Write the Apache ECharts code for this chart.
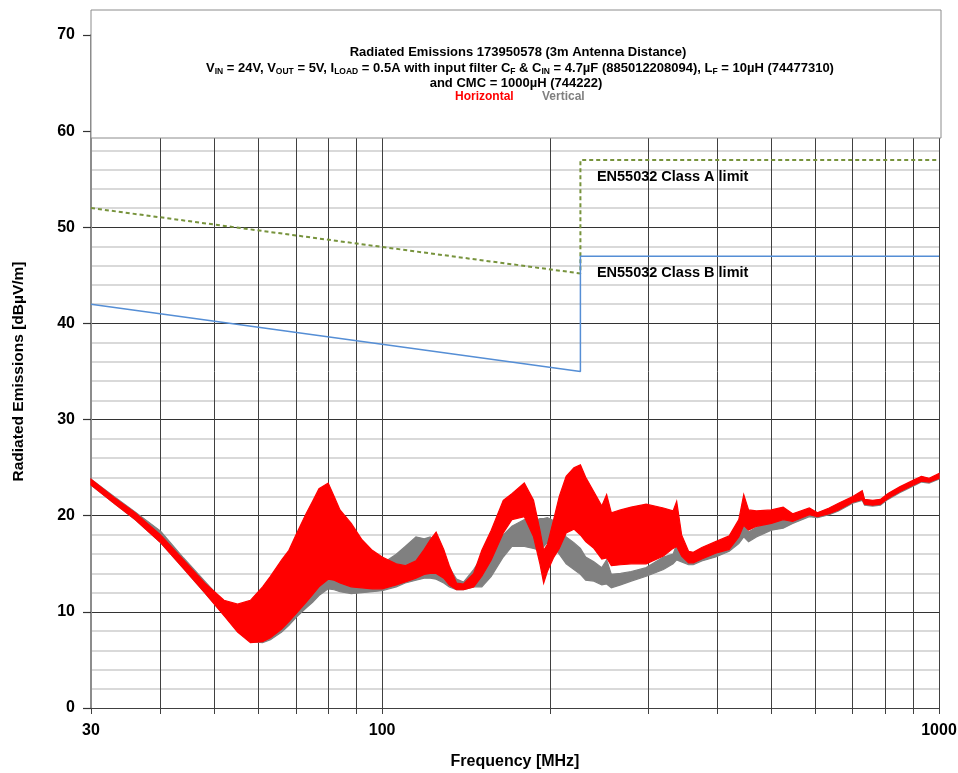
<!DOCTYPE html>
<html>
<head>
<meta charset="utf-8">
<title>Radiated Emissions 173950578</title>
<script src="https://cdn.jsdelivr.net/npm/echarts@6/dist/echarts.min.js"></script>
<style>
    html, body { margin: 0; padding: 0; background: #fff; }
    #main { width: 958px; height: 773px; }
</style>
</head>
<body>
<div id="main"></div>
<script>
    const freq = [30, 33, 36, 40, 44, 48, 52, 55, 58, 61, 63, 66, 68, 70, 73, 75, 77, 80, 82,
        84, 88, 92, 96, 100, 106, 110, 115, 119, 122, 125, 129, 132, 136, 140, 146, 151, 157, 165, 171,
        180, 187, 192, 195, 198, 203, 208, 214, 221, 227, 232, 240, 248, 253, 258, 268, 280, 298, 320, 333,
        338, 345, 355, 362, 375, 397, 420, 437, 446, 455, 470, 500, 525, 546, 585, 605, 635, 660, 700, 728,
        735, 760, 785, 810, 850, 900, 930, 960, 1000];

    // horizontal polarisation, lower / upper envelope [dBµV/m]
    const horizLow = [23.2, 21.3, 19.6, 17.2, 14.5, 12.0, 9.6, 7.9, 6.8, 6.9, 7.3, 8.2, 9.0, 9.8, 11.0, 11.8, 12.6, 13.4, 13.3,
        13.0, 12.6, 12.5, 12.4, 12.4, 12.8, 13.1, 13.5, 13.9, 14.0, 14.0, 13.5, 12.8, 12.3, 12.3, 12.6, 13.7, 15.4, 18.2, 19.6,
        19.9, 17.8, 15.0, 13.0, 14.2, 15.6, 16.6, 18.2, 18.6, 18.0, 17.3, 16.6, 15.5, 15.6, 14.8, 14.9, 15.0, 15.0, 15.8, 16.6,
        16.8, 15.8, 15.1, 15.1, 15.5, 16.1, 16.5, 17.8, 19.0, 18.5, 18.9, 19.2, 19.6, 19.4, 20.1, 19.9, 20.2, 20.6, 21.4, 21.7,
        21.2, 21.1, 21.2, 21.8, 22.5, 23.2, 23.6, 23.5, 23.9];
    const horizHigh = [23.8, 21.9, 20.3, 18.0, 15.4, 13.0, 11.2, 10.8, 11.2, 12.6, 13.7, 15.4, 16.4, 18.0, 20.2, 21.5, 22.8, 23.4, 22.0,
        20.6, 19.2, 17.5, 16.4, 15.7, 15.0, 14.8, 15.3, 16.5, 17.5, 18.3, 16.5, 14.8, 13.0, 12.9, 14.0, 16.4, 18.5, 21.6, 22.3,
        23.4, 21.6, 18.5, 16.4, 17.0, 19.5, 22.0, 24.1, 25.0, 25.3, 24.0, 22.5, 21.0, 22.2, 20.3, 20.6, 20.9, 21.2, 20.8, 20.5,
        21.5, 18.0, 16.3, 16.2, 16.7, 17.3, 17.9, 19.6, 22.2, 20.6, 20.5, 20.6, 20.9, 20.2, 20.8, 20.3, 20.8, 21.3, 22.0, 22.6,
        21.7, 21.6, 21.7, 22.3, 23.0, 23.7, 24.1, 23.9, 24.4];

    // vertical polarisation, lower / upper envelope [dBµV/m]
    const vertLow = [23.2, 21.3, 19.6, 17.2, 14.5, 12.0, 9.7, 8.0, 6.9, 6.8, 7.1, 7.9, 8.6, 9.4, 10.4, 11.0, 11.7, 12.4, 12.3,
        12.1, 11.9, 12.0, 12.1, 12.2, 12.6, 13.0, 13.3, 13.5, 13.5, 13.4, 13.0, 12.6, 12.3, 12.3, 12.6, 12.6, 13.7, 15.7, 16.8,
        16.8, 16.6, 16.4, 16.8, 17.2, 16.8, 16.0, 15.0, 14.4, 13.9, 13.3, 13.2, 12.8, 12.9, 12.5, 12.8, 13.2, 13.7, 14.4, 15.0,
        15.4, 15.2, 14.9, 14.9, 15.3, 15.7, 16.3, 17.1, 17.8, 17.3, 17.8, 18.5, 18.7, 19.2, 19.9, 19.8, 20.1, 20.5, 21.3, 21.6,
        21.1, 21.0, 21.1, 21.7, 22.4, 23.1, 23.5, 23.4, 23.8];
    const vertHigh = [23.8, 22.0, 20.4, 18.4, 15.6, 13.2, 11.0, 10.4, 10.6, 10.5, 11.0, 12.0, 12.5, 13.0, 13.5, 13.8, 14.0, 14.2, 14.0,
        13.9, 13.6, 13.5, 13.8, 15.0, 16.0, 16.8, 17.8, 17.6, 17.8, 17.3, 15.8, 14.6, 13.4, 13.1, 14.4, 15.7, 16.8, 18.0, 18.9,
        19.6, 19.4, 19.7, 19.7, 19.8, 19.5, 18.8, 17.8, 17.2, 16.6, 15.7, 15.2, 14.6, 15.4, 13.9, 14.0, 14.2, 14.6, 15.7, 16.0,
        17.0, 16.2, 15.8, 15.8, 16.2, 16.6, 17.0, 18.0, 19.2, 18.3, 18.8, 19.3, 19.6, 19.8, 20.5, 20.3, 20.7, 21.2, 21.9, 22.5,
        21.6, 21.5, 21.6, 22.2, 22.9, 23.6, 24.0, 23.8, 24.3];

    // EN55032 limits
    const limitFreq = [30, 227, 227, 1000];
    const classALimit = [52, 45.2, 57, 57];
    const classBLimit = [42, 35, 47, 47];

    const xGridValues = [30, 40, 50, 60, 70, 80, 90, 100, 200, 300, 400, 500, 600, 700, 800, 900, 1000];
    const xLabelValues = [30, 100, 1000];

    const labelFont = 'Liberation Sans';

    // filled band between lower and upper envelope, drawn through the axes
    function bandSeries(name, color, low, high) {
        return {
            name: name,
            type: 'custom',
            coordinateSystem: 'cartesian2d',
            silent: true,
            data: [[freq[0], low[0]]],
            renderItem: function (params, api) {
                const pts = [];
                for (let i = 0; i < freq.length; i++) {
                    pts.push(api.coord([freq[i], high[i]]));
                }
                for (let i = freq.length - 1; i >= 0; i--) {
                    pts.push(api.coord([freq[i], low[i]]));
                }
                return {
                    type: 'polygon',
                    shape: { points: pts },
                    style: { fill: color, stroke: color, lineWidth: 1.2 }
                };
            }
        };
    }

    function limitSeries(name, color, values, lineType, width, label, labelAt) {
        return {
            name: name,
            type: 'line',
            symbol: 'none',
            silent: true,
            data: limitFreq.map(function (f, i) { return [f, values[i]]; }),
            lineStyle: { color: color, width: width, type: lineType },
            markPoint: {
                symbol: 'circle',
                symbolSize: 0,
                silent: true,
                data: [{ coord: labelAt }],
                label: {
                    show: true,
                    position: 'right',
                    distance: 0,
                    formatter: label,
                    color: '#000',
                    fontFamily: labelFont,
                    fontWeight: 'bold',
                    fontSize: 14.5
                }
            }
        };
    }

    const titleRich = {
        n: { fill: '#000', fontFamily: labelFont, fontWeight: 'bold', fontSize: 13, lineHeight: 16 },
        s: { fill: '#000', fontFamily: labelFont, fontWeight: 'bold', fontSize: 8.5, lineHeight: 16, verticalAlign: 'bottom' }
    };

    const option = {
        animation: false,
        backgroundColor: '#fff',
        grid: { left: 91, right: 19, top: 35, bottom: 65, outerBoundsMode: 'none' },
        xAxis: {
            type: 'log',
            logBase: 10,
            min: 30,
            max: 1000,
            name: 'Frequency [MHz]',
            nameLocation: 'middle',
            nameGap: 46,
            nameTextStyle: { color: '#000', fontFamily: labelFont, fontWeight: 'bold', fontSize: 16 },
            axisLine: { show: true, lineStyle: { color: '#404040', width: 1 } },
            axisTick: { show: true, length: 6, customValues: xGridValues, lineStyle: { color: '#404040' } },
            axisLabel: {
                customValues: xLabelValues,
                margin: 15,
                color: '#000',
                fontFamily: labelFont,
                fontWeight: 'bold',
                fontSize: 16,
                formatter: function (v) { return String(Math.round(v)); }
            },
            splitLine: { show: true, lineStyle: { color: '#404040', width: 1 } },
            minorTick: { show: false },
            minorSplitLine: { show: false }
        },
        yAxis: {
            type: 'value',
            min: 0,
            max: 70,
            interval: 10,
            name: 'Radiated Emissions [dBµV/m]',
            nameLocation: 'middle',
            nameGap: 64,
            nameTextStyle: { color: '#000', fontFamily: labelFont, fontWeight: 'bold', fontSize: 15.5 },
            axisLine: { show: true, lineStyle: { color: '#8c8c8c', width: 2 } },
            axisTick: { show: true, length: 8, lineStyle: { color: '#333', width: 1.2 } },
            axisLabel: { margin: 16, color: '#000', fontFamily: labelFont, fontWeight: 'bold', fontSize: 16 },
            splitLine: { show: true, lineStyle: { color: '#333', width: 1 } },
            minorTick: { show: false, splitNumber: 5 },
            minorSplitLine: { show: true, lineStyle: { color: '#d9d9d9', width: 2 } }
        },
        graphic: [
            {
                type: 'rect',
                z: 100,
                shape: { x: 91, y: 10, width: 850, height: 128 },
                style: { fill: '#fff', stroke: '#8c8c8c', lineWidth: 1 }
            },
            {
                type: 'text',
                z: 101,
                x: 518, y: 52,
                style: {
                    text: '{n|Radiated Emissions 173950578 (3m Antenna Distance)}',
                    rich: titleRich, align: 'center', verticalAlign: 'middle'
                }
            },
            {
                type: 'text',
                z: 101,
                x: 520, y: 68,
                style: {
                    text: '{n|V}{s|IN}{n| = 24V, V}{s|OUT}{n| = 5V, I}{s|LOAD}{n| = 0.5A with input filter C}{s|F}' +
                        '{n| & C}{s|IN}{n| = 4.7µF (885012208094), L}{s|F}{n| = 10µH (74477310)}',
                    rich: titleRich, align: 'center', verticalAlign: 'middle'
                }
            },
            {
                type: 'text',
                z: 101,
                x: 516, y: 83,
                style: {
                    text: '{n|and CMC = 1000µH (744222)}',
                    rich: titleRich, align: 'center', verticalAlign: 'middle'
                }
            },
            {
                type: 'text',
                z: 101,
                x: 455, y: 97,
                style: {
                    text: 'Horizontal', fill: '#ff0000', align: 'left', verticalAlign: 'middle',
                    font: 'bold 12px "Liberation Sans"'
                }
            },
            {
                type: 'text',
                z: 101,
                x: 542, y: 97,
                style: {
                    text: 'Vertical', fill: '#808080', align: 'left', verticalAlign: 'middle',
                    font: 'bold 12px "Liberation Sans"'
                }
            }
        ],
        series: [
            bandSeries('Vertical', '#808080', vertLow, vertHigh),
            bandSeries('Horizontal', '#ff0000', horizLow, horizHigh),
            limitSeries('Class A', '#77933c', classALimit, [4, 3], 2, 'EN55032 Class A limit', [243, 55.2]),
            limitSeries('Class B', '#558ed5', classBLimit, 'solid', 1.5, 'EN55032 Class B limit', [243, 45.2])
        ]
    };

    const myChart = echarts.init(document.getElementById('main'));
    myChart.setOption(option);
</script>
</body>
</html>
